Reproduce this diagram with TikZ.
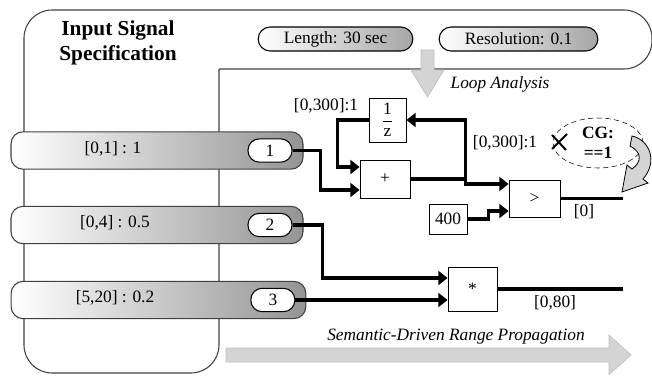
\documentclass[tikz,border=0pt]{standalone}
\usepackage{fontspec}
\setmainfont{Liberation Serif}
\usetikzlibrary{arrows.meta, positioning, shapes.geometric}

\begin{document}
\fontsize{13}{15}\selectfont
\begin{tikzpicture}[x=0.75pt, y=-0.75pt, >={Triangle[length=7pt, width=10.5pt]}]
        \tikzstyle{block} = [draw, rectangle, line width=0.6pt, fill=white, inner sep=0pt]
        \tikzstyle{wire} = [line width=2.5pt]
        \tikzstyle{signal} = [draw=black!75, line width=0.8pt, rounded corners=9pt, left color=white, right color=black!42, minimum width=219pt, minimum height=28pt]
        \tikzstyle{port} = [draw, line width=0.8pt, fill=white, rounded corners=8.5pt, minimum width=33pt, minimum height=17.5pt, inner sep=0pt]
        \tikzstyle{setting} = [draw, line width=0.8pt, rounded corners=9pt, left color=white, right color=black!35, minimum height=18pt, inner sep=0pt]
        \tikzstyle{flow} = [fill=black!17, draw=black!25, line width=0.5pt]

        \useasboundingbox (0,0) rectangle (652,375);

        % Rahmen der Spezifikation
        \draw[draw=black!75, line width=0.8pt, rounded corners=21pt] (219,69) -- (652,69) -- (652,10) -- (24,10) -- (24,373) -- (219,373) -- (219,69);
        \node[font=\fontsize{16}{19}\selectfont\bfseries, align=center] (title) at (118,43) {Input Signal\\Specification};

        % Einstellungen
        \node[setting, minimum width=116pt] (len) at (335.5,39) {Length: 30 sec};
        \node[setting, minimum width=119pt] (res) at (518.5,39) {Resolution: 0.1};

        \draw[flow] (421,50) -- (434,50) -- (434,70) -- (444,70) -- (427.5,97) -- (411,70) -- (421,70) -- cycle;
        \node[font=\itshape] (loop) at (500,84) {Loop Analysis};

        % Eingangssignale
        \node[signal] (sig1) at (157,150.5) {};
        \node[signal] (sig2) at (157,225) {};
        \node[signal, minimum width=221pt] (sig3) at (158.5,300) {};
        \node (range1) at (113,149) {[0,1] : 1};
        \node (range2) at (115,223) {[0,4] : 0.5};
        \node (range3) at (115,298) {[5,20] : 0.2};
        \node[port, left=8.25pt of sig1.east] (in1) {1};
        \node[port, left=8.25pt of sig2.east] (in2) {2};
        \node[port, left=8.25pt of sig3.east] (in3) {3};

        % Bloecke
        \node[block, minimum width=27.75pt, minimum height=33pt] (delay) at (387.5,120) {$\displaystyle\frac{\mbox{1}}{\mbox{z}}$};
        \node[block, minimum width=37.5pt, minimum height=28.5pt] (add) at (385,179) {+};
        \node[block, minimum width=38.25pt, minimum height=27.75pt] (cmp) at (534.5,198.5) {>};
        \node[block, minimum width=28.5pt, minimum height=22.5pt] (const) at (448,219) {400};
        \node[block, minimum width=36.75pt, minimum height=33pt] (mul) at (472.5,289) {*};

        % Verbindungen
        \draw[wire, ->] (in1.east) -- ++(28,0) |- ([yshift=-8.25pt]add.west);
        \draw[wire, ->] (add.east) -- ++(55,0) coordinate (split) |- ([yshift=10.9pt]cmp.west);
        \draw[wire, ->] (split) |- (delay.east);
        \draw[wire, ->] (delay.west) -- ++(-31,0) |- ([yshift=9pt]add.west);
        \draw[wire, ->] (const.east) -- ++(21,0) |- ([yshift=-9.4pt]cmp.west);
        \draw[wire] (cmp.east) -- ++(63,0) coordinate (out1);
        \draw[wire, ->] (in2.east) -- ++(30,0) |- ([yshift=8.25pt]mul.west);
        \draw[wire, ->] (in3.east) -- (in3.east -| mul.west);
        \draw[wire] (mul.east) -- ++(126,0) coordinate (out2);

        \node (rz) at (326,106) {[0,300]:1};
        \node (rfb) at (505,143) {[0,300]:1};
        \node (r0) at (584,212) {[0]};
        \node (r080) at (555,303) {[0,80]};

        % Bedingung
        \draw[line width=1.5pt] (552,149) -- (567,134) (552,135) -- (566,150);
        \node[draw, dashed, dash pattern=on 4pt off 2.5pt, ellipse, minimum width=67.5pt, minimum height=37.5pt, inner sep=0pt, font=\bfseries, align=center] (cg) at (598,143) {CG:\\==1};
        \draw[fill=black!17, line width=0.6pt] (632,136) .. controls (650,140) and (658,162) .. (643,179) -- (648,183) -- (622,192) -- (627,165) -- (632,169) .. controls (642,162) and (642,152) .. (630,146) -- cycle;

        % Propagation
        \draw[flow] (226,348) -- (609,348) -- (609,335) -- (631,355) -- (609,374.5) -- (609,362) -- (226,362) -- cycle;
        \node[font=\itshape] (prop) at (456,337) {Semantic-Driven Range Propagation};

        \end{tikzpicture}
\end{document}
